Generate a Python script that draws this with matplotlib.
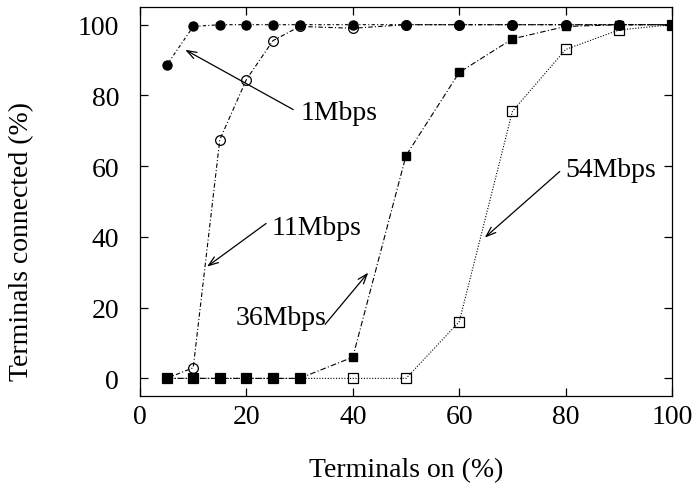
import matplotlib
matplotlib.use("Agg")
import matplotlib.pyplot as plt

plt.rcParams['font.family'] = ['Liberation Serif', 'DejaVu Serif']

# data
x_pct = [5, 10, 15, 20, 25, 30, 40, 50, 60, 70, 80, 90, 100]
y_1mbps = [88.5, 99.5, 100, 100, 100, 100, 100, 100, 100, 100, 100, 100, 100]
y_11mbps = [0, 3, 67.5, 84.5, 95.5, 99.5, 99, 100, 100, 100, 100, 100, 100]
y_36mbps = [0, 0, 0, 0, 0, 0, 6, 63, 86.5, 96, 99.5, 100, 100]
y_54mbps = [0, 0, 0, 0, 0, 0, 0, 0, 16, 75.5, 93, 98.5, 100]

xticks = [0, 20, 40, 60, 80, 100]
yticks = [0, 20, 40, 60, 80, 100]

fig = plt.figure(figsize=(6.99, 4.89), dpi=100)
ax = fig.add_axes([0.2003, 0.188, 0.7611, 0.7956])

ax.plot(x_pct, y_11mbps, color='black', lw=0.8, dashes=(4, 2, 1, 2),
        marker='o', ms=7, mfc='none', mec='black', mew=0.9)
ax.plot(x_pct, y_54mbps, color='black', lw=0.8, dashes=(1, 1.5),
        marker='s', ms=6.5, mfc='none', mec='black', mew=0.9)
ax.plot(x_pct, y_1mbps, color='black', lw=0.8, dashes=(1, 2, 3, 2),
        marker='o', ms=6.5, mfc='black', mec='black')
ax.plot(x_pct, y_36mbps, color='black', lw=0.8, dashes=(5, 2, 1, 2),
        marker='s', ms=6, mfc='black', mec='black')

# labels with arrows
arrow = dict(arrowstyle='->,head_length=0.7,head_width=0.25', color='black',
             lw=0.9, shrinkA=0, shrinkB=0)
ax.annotate('', xy=(8.5, 92.9), xytext=(28.8, 76.0), arrowprops=arrow)
ax.text(30.1, 73.4, '1Mbps', fontsize=20, ha='left', va='baseline')
ax.annotate('', xy=(12.6, 31.6), xytext=(23.7, 43.8), arrowprops=arrow)
ax.text(24.8, 40.7, '11Mbps', fontsize=20, ha='left', va='baseline')
ax.annotate('', xy=(42.9, 29.9), xytext=(34.8, 15.3), arrowprops=arrow)
ax.text(17.9, 15.3, '36Mbps', fontsize=20, ha='left', va='baseline')
ax.annotate('', xy=(64.8, 39.8), xytext=(78.9, 58.5), arrowprops=arrow)
ax.text(79.9, 57.1, '54Mbps', fontsize=20, ha='left', va='baseline')

ax.set_xlim(0, 100)
ax.set_ylim(-5, 105)
ax.set_xticks(xticks)
ax.set_yticks(yticks)
ax.tick_params(direction='in', top=True, right=True, length=6, width=0.9,
               labelsize=20)
ax.tick_params(axis='y', pad=15)
ax.tick_params(axis='x', pad=6)
for s in ax.spines.values():
    s.set_linewidth(0.9)

ax.set_xlabel('Terminals on (%)', fontsize=20, labelpad=20)
fig.text(22 / 699, 1 - 242 / 489, 'Terminals connected (%)', fontsize=20,
         rotation=90, ha='center', va='center')

fig.savefig('out.png', dpi=100)
